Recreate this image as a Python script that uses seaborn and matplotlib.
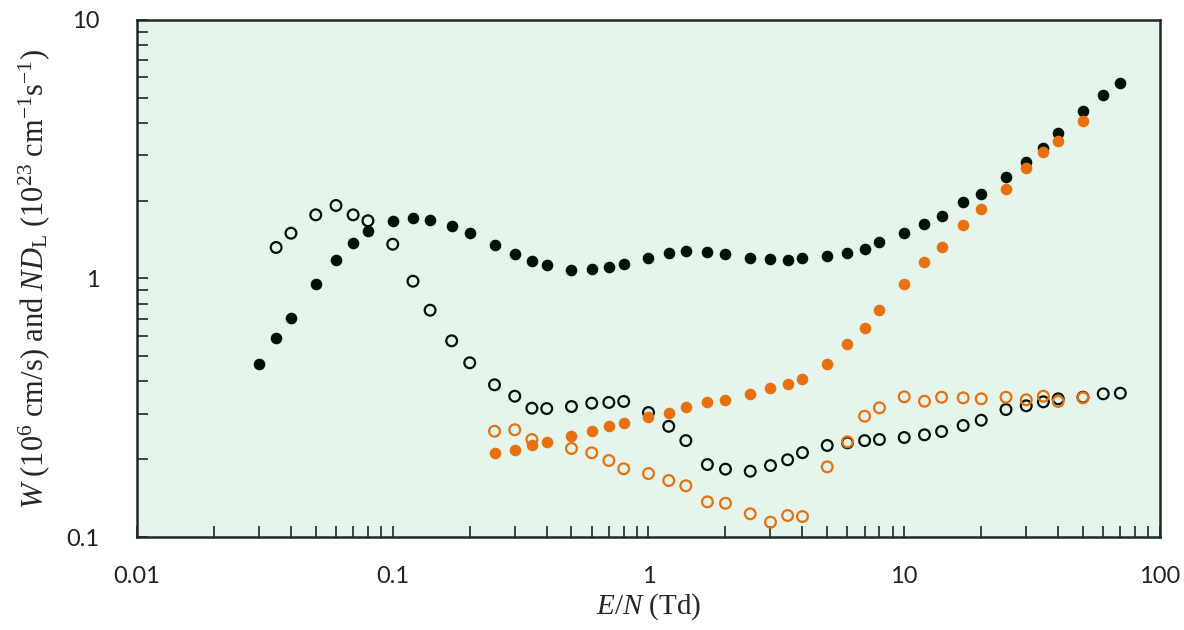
import pandas as pd
import numpy as np
import matplotlib
matplotlib.use("Agg")
import matplotlib.pyplot as plt
import seaborn as sns

# E/N values (Td)
en_black = [0.03, 0.035, 0.04, 0.05, 0.06, 0.07, 0.08, 0.1, 0.12, 0.14, 0.17, 0.2,
            0.25, 0.3, 0.35, 0.4, 0.5, 0.6, 0.7, 0.8, 1, 1.2, 1.4, 1.7, 2, 2.5, 3,
            3.5, 4, 5, 6, 7, 8, 10, 12, 14, 17, 20, 25, 30, 35, 40, 50, 60, 70]
w_black = [0.466, 0.588, 0.702, 0.954, 1.184, 1.369, 1.52, 1.666, 1.711, 1.691, 1.60, 1.497,
           1.35, 1.249, 1.171, 1.123, 1.080, 1.086, 1.11, 1.14, 1.195, 1.257, 1.276, 1.264,
           1.246, 1.199, 1.188, 1.181, 1.195, 1.224, 1.257, 1.306, 1.382, 1.497, 1.622,
           1.747, 1.973, 2.113, 2.459, 2.818, 3.203, 3.638, 4.454, 5.136, 5.715]

en_black_open = en_black[1:]
ndl_black = [1.318, 1.497, 1.763, 1.916, 1.763, 1.672, 1.357, 0.976, 0.754, 0.574, 0.472,
             0.388, 0.3505, 0.315, 0.314, 0.3197, 0.3294, 0.3315, 0.3345, 0.303, 0.268,
             0.236, 0.1907, 0.183, 0.1797, 0.189, 0.199, 0.212, 0.226, 0.2314, 0.236,
             0.2383, 0.2426, 0.2485, 0.2559, 0.27, 0.283, 0.3113, 0.3217, 0.3334, 0.3424,
             0.3473, 0.358, 0.36]

en_orange = [0.25, 0.3, 0.35, 0.4, 0.5, 0.6, 0.7, 0.8, 1, 1.2, 1.4, 1.7, 2, 2.5, 3,
             3.5, 4, 5, 6, 7, 8, 10, 12, 14, 17, 20, 25, 30, 35, 40, 50]
w_orange = [0.211, 0.218, 0.226, 0.2326, 0.2462, 0.2575, 0.2684, 0.2773, 0.29, 0.303,
            0.317, 0.332, 0.340, 0.358, 0.376, 0.3915, 0.4077, 0.469, 0.559, 0.646,
            0.754, 0.956, 1.156, 1.326, 1.608, 1.854, 2.215, 2.672, 3.072, 3.399, 4.061]

en_orange_open = [0.25, 0.3, 0.35, 0.5, 0.6, 0.7, 0.8, 1, 1.2, 1.4, 1.7, 2, 2.5, 3,
                  3.5, 4, 5, 6, 7, 8, 10, 12, 14, 17, 20, 25, 30, 35, 40, 50]
ndl_orange = [0.2566, 0.26, 0.2383, 0.22, 0.2117, 0.1977, 0.1836, 0.176, 0.1654, 0.1578,
              0.1368, 0.1351, 0.123, 0.1141, 0.1211, 0.12, 0.1868, 0.2335, 0.2933, 0.316,
              0.3486, 0.3352, 0.3473, 0.3454, 0.3424, 0.3473, 0.3394, 0.3505, 0.3345, 0.3454]

black = "#02100a"
orange = "#e8710f"

sns.set_style("ticks")
plt.rcParams["font.family"] = ["Lato", "DejaVu Sans"]
plt.rcParams["mathtext.fontset"] = "custom"
plt.rcParams["mathtext.rm"] = "Liberation Serif"
plt.rcParams["mathtext.it"] = "Liberation Serif:italic"

fig = plt.figure(figsize=(11.84, 6.3), dpi=100)
ax = fig.add_axes([0.1157, 0.1476, 0.864, 0.8207])
ax.set_facecolor("#e5f5ec")

sns.scatterplot(x=en_black_open, y=ndl_black, ax=ax, s=60, marker="o",
                fc="none", ec=black, linewidth=1.6, zorder=3)
sns.scatterplot(x=en_black, y=w_black, ax=ax, s=70, marker="o",
                color=black, linewidth=0, zorder=4)
sns.scatterplot(x=en_orange_open, y=ndl_orange, ax=ax, s=60, marker="o",
                fc="none", ec=orange, linewidth=1.6, zorder=5)
sns.scatterplot(x=en_orange, y=w_orange, ax=ax, s=70, marker="o",
                color=orange, linewidth=0, zorder=6)

ax.set_xscale("log")
ax.set_yscale("log")
ax.set_xlim(0.01, 100)
ax.set_ylim(0.1, 10)
ax.set_xticks([0.01, 0.1, 1, 10, 100])
ax.set_xticklabels(["0.01", "0.1", "1", "10", "100"])
ax.set_yticks([0.1, 1, 10])
ax.set_yticklabels(["0.1", "1", "10"])

for side in ["top", "right", "bottom", "left"]:
    ax.spines[side].set_visible(True)
    ax.spines[side].set_linewidth(1.8)
    ax.spines[side].set_color("#1c2a22")

ax.tick_params(which="both", direction="in", color="#1c2a22", width=1.2,
               labelsize=17, labelcolor="#222222", top=False, right=False)
ax.tick_params(which="major", length=8)
ax.tick_params(which="minor", length=8)
ax.tick_params(axis="x", which="major", pad=21)
ax.tick_params(axis="y", which="major", pad=27)

ax.set_xlabel(r"$E/N\ \mathrm{(Td)}$", fontsize=21, labelpad=3)
ax.set_ylabel(r"$W\ \mathrm{(10^{6}\ cm/s)\ and}\ ND_{\mathrm{L}}\ \mathrm{(10^{23}\ cm^{-1}s^{-1})}$",
              fontsize=22, labelpad=10)

fig.savefig("out.png", dpi=100)
